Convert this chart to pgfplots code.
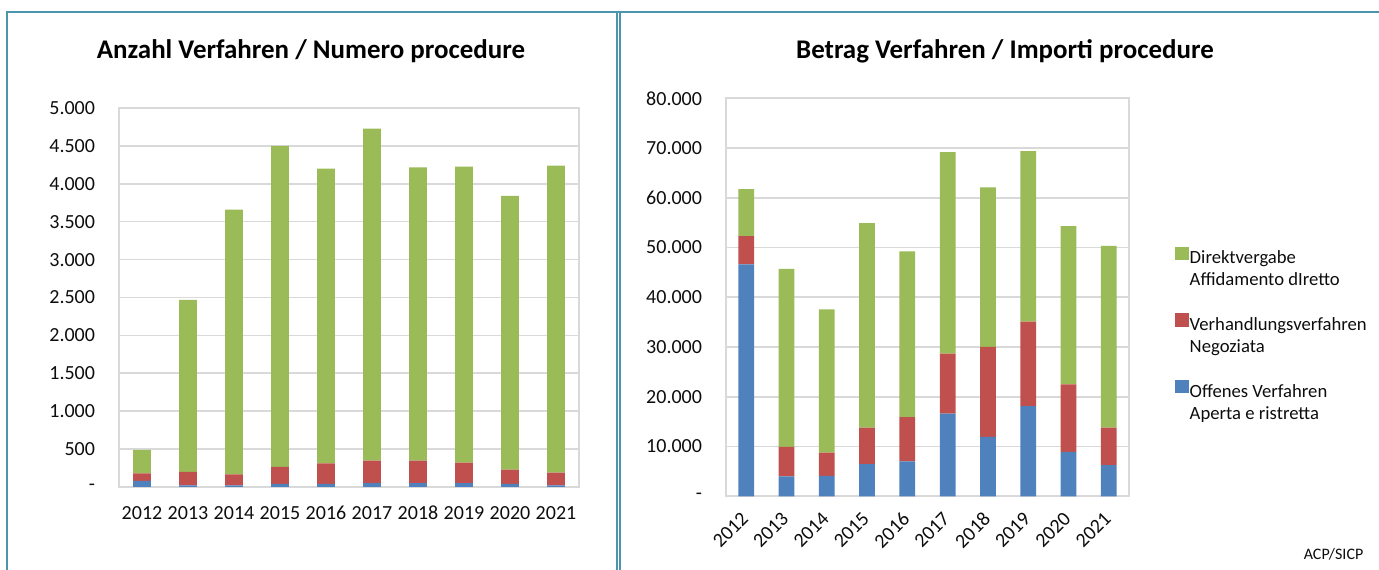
\documentclass[border=0pt]{standalone}
\usepackage{pgfplots}
\pgfplotsset{compat=1.18}
\usepackage{fontspec}
\setmainfont{Carlito}

\definecolor{cgreen}{RGB}{155,187,89}
\definecolor{cred}{RGB}{192,80,77}
\definecolor{cblue}{RGB}{79,129,189}
\definecolor{cgrid}{RGB}{217,217,217}
\definecolor{cframe}{RGB}{75,150,172}
\definecolor{ctext}{RGB}{13,13,13}

\pgfplotsset{
  panel/.style={
    scale only axis,
    anchor=south west,
    ybar stacked,
    bar width=0.39,
    xmin=-0.5, xmax=9.5,
    xtick={0,...,9},
    xticklabels={2012,2013,2014,2015,2016,2017,2018,2019,2020,2021},
    major tick length=0pt,
    scaled ticks=false,
    axis line style={cgrid, line width=1.2pt},
    ymajorgrids,
    grid style={cgrid, line width=1.2pt},
    tick label style={font=\fontsize{15}{17}\selectfont, text=ctext},
    yticklabel style={anchor=east, xshift=-14.5pt},
  },
  sq/.style={legend image code/.code={\fill[#1] (0pt,-1pt) rectangle (9.5pt,8.5pt);}},
}

\begin{document}
\begin{tikzpicture}
\useasboundingbox (0pt,0pt) rectangle (1034.25pt,427.5pt);

\begin{scope}[x=0.75pt, y=0.75pt]
% panel frames
\draw[cframe, line width=1.5pt] (7,0) -- (7,558) -- (1379,558);
\draw[cframe, line width=1.5pt] (617,0) -- (617,558);
\draw[cframe, line width=1.5pt] (620,0) -- (620,558);

% titles
\node[font=\fontsize{20.2}{23}\selectfont\bfseries, anchor=base] at (311,511) {Anzahl Verfahren / Numero procedure};
\node[font=\fontsize{20.2}{23}\selectfont\bfseries, anchor=base] at (1005,511) {Betrag Verfahren / Importi procedure};
\node[font=\fontsize{12}{14}\selectfont, anchor=base east, text=ctext] at (1368,10) {ACP/SICP};
\end{scope}

% left: number of procedures
\begin{axis}[panel,
  at={(89.25pt,62.25pt)},
  width=345pt, height=284.25pt,
  ymin=0, ymax=5000,
  ytick={0,500,...,5000},
  yticklabels={-,500,1.000,1.500,2.000,2.500,3.000,3.500,4.000,4.500,5.000},
  xticklabel style={anchor=north, yshift=-10.75pt},
]
\addplot[fill=cblue, draw=none] coordinates {(0,80) (1,23) (2,20) (3,40) (4,40) (5,50) (6,50) (7,50) (8,40) (9,20)};
\addplot[fill=cred, draw=none] coordinates {(0,100) (1,178) (2,146) (3,224) (4,273) (5,299) (6,299) (7,272) (8,188) (9,168)};
\addplot[fill=cgreen, draw=none] coordinates {(0,310) (1,2269) (2,3494) (3,4236) (4,3887) (5,4380) (6,3868) (7,3904) (8,3613) (9,4052)};
\end{axis}

% right: amounts
\begin{axis}[panel,
  at={(544.5pt,55.28pt)},
  width=302.25pt, height=298.5pt,
  ymin=0, ymax=80000,
  ytick={0,10000,...,80000},
  yticklabels={-,10.000,20.000,30.000,40.000,50.000,60.000,70.000,80.000},
  xticklabel style={xshift=-4.5pt, yshift=-6pt, rotate=45, anchor=north east},
  legend style={at={(1.114,0.628)}, anchor=north west, draw=none, fill=none,
    font=\fontsize{14}{16.5}\selectfont, text=ctext,
    inner sep=0pt, row sep=0pt,
    nodes={inner sep=1pt, text height=11.5pt, text depth=3pt}},
  legend cell align=left,
]
% legend: two text lines per series, one empty row between series
\addlegendimage{sq=cgreen}
\addlegendentry{Direktvergabe}
\addlegendimage{empty legend}
\addlegendentry{Affidamento dIretto}
\addlegendimage{empty legend}
\addlegendentry{}
\addlegendimage{sq=cred}
\addlegendentry{Verhandlungsverfahren}
\addlegendimage{empty legend}
\addlegendentry{Negoziata}
\addlegendimage{empty legend}
\addlegendentry{}
\addlegendimage{sq=cblue}
\addlegendentry{Offenes Verfahren}
\addlegendimage{empty legend}
\addlegendentry{Aperta e ristretta}

\addplot[fill=cblue, draw=none, forget plot] coordinates {(0,46600) (1,4020) (2,4080) (3,6440) (4,7040) (5,16620) (6,11930) (7,18110) (8,8920) (9,6240)};
\addplot[fill=cred, draw=none, forget plot] coordinates {(0,5700) (1,5920) (2,4700) (3,7360) (4,8860) (5,12070) (6,18110) (7,17020) (8,13550) (9,7560)};
\addplot[fill=cgreen, draw=none, forget plot] coordinates {(0,9460) (1,35760) (2,28800) (3,41110) (4,33350) (5,40510) (6,32060) (7,34270) (8,31830) (9,36540)};
\end{axis}
\end{tikzpicture}
\end{document}
